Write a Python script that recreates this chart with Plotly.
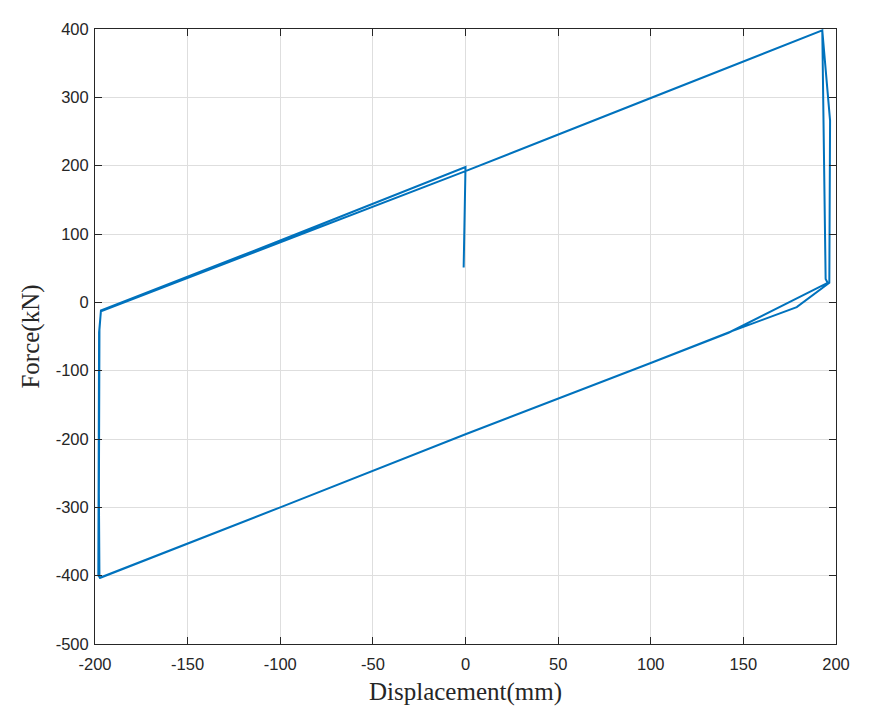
import plotly.graph_objects as go

# Hysteresis record (displacement mm, force kN)
displacement = [0.0, 100.0, 192.6, 196.8, 196.6, 196.4, 178.8, 142.0, 100.0, 0.0,
                -100.0, -197.1, -198.2, -198.0, -197.8, -196.8, -100.0, 0.0, 100.0,
                192.6, 194.4, 195.5, 142.0, 100.0, 0.0, -100.0, -197.4, -197.6,
                -197.9, -197.6, -196.8, -100.0, 0.0, -1.0]
force = [192.0, 299.0, 398.0, 266.0, 150.0, 28.5, -7.0, -44.0, -88.5, -193.0,
         -300.0, -403.0, -400.0, -270.0, -44.0, -13.0, 88.0, 192.0, 299.0,
         398.0, 34.0, 28.5, -44.5, -89.0, -193.0, -300.0, -403.0, -402.0,
         -280.0, -40.0, -12.0, 90.5, 198.0, 51.0]

x_ticks = [-200, -150, -100, -50, 0, 50, 100, 150, 200]
x_labels = ["-200", "-150", "-100", "-50", "0", "50", "100", "150", "200"]
y_ticks = [-500, -400, -300, -200, -100, 0, 100, 200, 300, 400]
y_labels = ["-500", "-400", "-300", "-200", "-100", "0", "100", "200", "300", "400"]

fig = go.Figure()
fig.add_trace(go.Scatter(x=displacement, y=force, mode="lines",
                         line=dict(color="#0072BD", width=2), showlegend=False))

axis_common = dict(
    showline=True, linecolor="#262626", linewidth=1, mirror="ticks",
    ticks="inside", ticklen=7, tickcolor="#262626",
    showgrid=True, gridcolor="#dedede", gridwidth=1, zeroline=False,
    tickfont=dict(family="Liberation Sans, Arial", size=16.5, color="#262626"),
)

fig.update_xaxes(range=[-200, 200], tickvals=x_ticks, ticktext=x_labels,
                 ticklabelstandoff=5,
                 title=dict(text="Displacement(mm)", standoff=10,
                            font=dict(family="Liberation Serif, Times New Roman", size=25, color="#262626")),
                 **axis_common)
fig.update_yaxes(range=[-500, 400], tickvals=y_ticks, ticktext=y_labels,
                 ticklabelstandoff=2,
                 title=dict(text="Force(kN)", standoff=8,
                            font=dict(family="Liberation Serif, Times New Roman", size=25, color="#262626")),
                 **axis_common)

fig.update_layout(width=870, height=719, plot_bgcolor="white", paper_bgcolor="white",
                  margin=dict(l=87, r=42, t=19, b=83))

fig.write_html("out.html")
